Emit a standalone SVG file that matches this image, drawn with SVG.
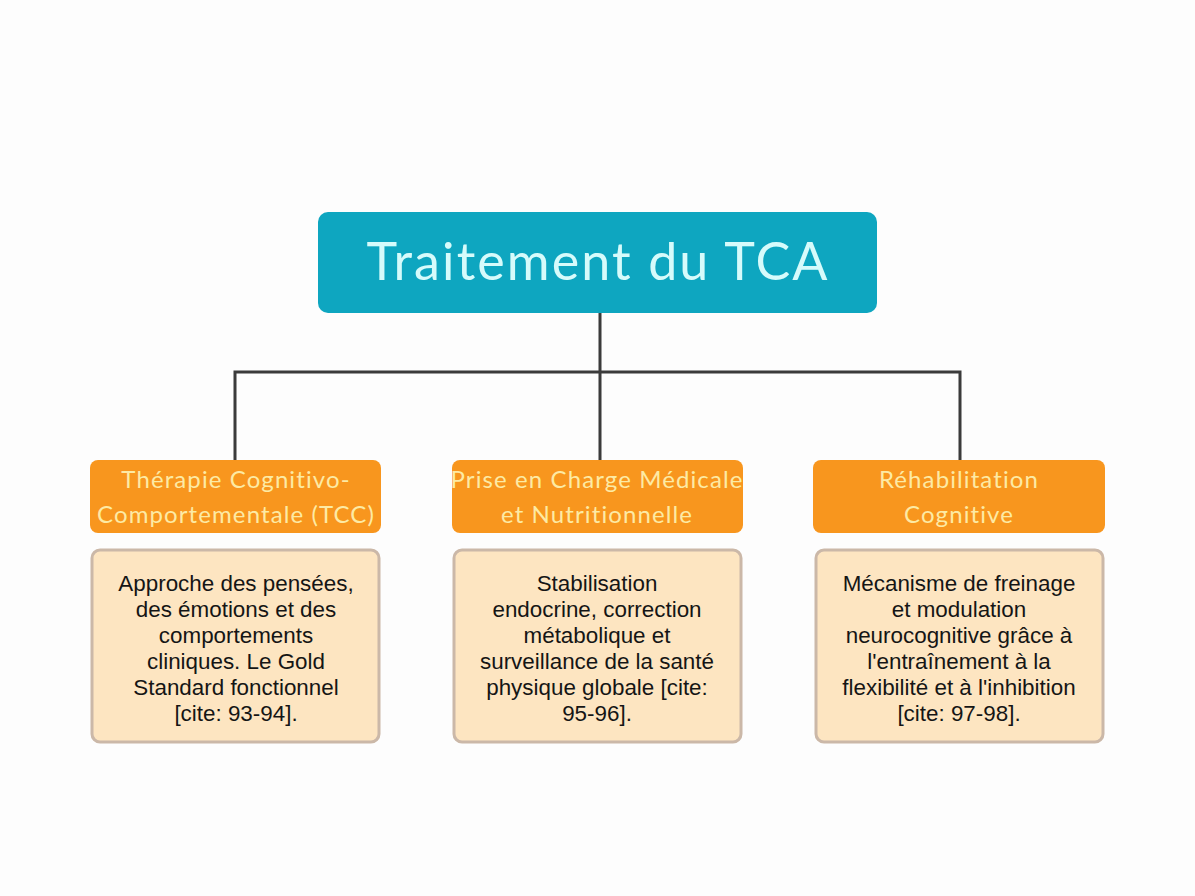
<svg xmlns="http://www.w3.org/2000/svg" width="1195" height="896" viewBox="0 0 1195 896">
<style>
.title{font-family:Lato,"Open Sans",sans-serif;font-weight:400;font-size:52px;fill:#d6fbfb;text-anchor:middle;letter-spacing:2.1px}
.cat{fill:#f8961e}
.cattext{font-family:Lato,"Open Sans",sans-serif;font-size:24px;fill:#fdeaa4;text-anchor:middle;letter-spacing:1.1px}
.desc{fill:#fde5c1;stroke:#cbb8a8;stroke-width:3}
.desctext{font-family:"Liberation Sans",Arial,sans-serif;font-size:22.4px;fill:#151515;text-anchor:middle}
.conn{stroke:#3b3b3b;stroke-width:3;fill:none}
</style>
<rect width="1195" height="896" fill="#fdfdfd"/>
<g id="connectors">
<path class="conn" d="M600 313 V372 M235 372 H960 M235 370.5 V460 M600 372 V460 M960 370.5 V460"/>
</g>
<g id="root">
<rect x="318" y="212" width="559" height="101" rx="10" fill="#0ea6c0"/>
<text class="title" x="598" y="280">Traitement du TCA</text>
</g>
<g id="tcc">
<rect class="cat" x="90" y="460" width="291" height="73" rx="8"/>
<text class="cattext"><tspan x="236" y="488">Thérapie Cognitivo-</tspan><tspan x="236" y="523">Comportementale (TCC)</tspan></text>
</g>
<g id="medical">
<rect class="cat" x="452" y="460" width="291" height="73" rx="8"/>
<text class="cattext"><tspan x="597" y="488">Prise en Charge Médicale</tspan><tspan x="597" y="523">et Nutritionnelle</tspan></text>
</g>
<g id="rehab">
<rect class="cat" x="813" y="460" width="292" height="73" rx="8"/>
<text class="cattext"><tspan x="959" y="488">Réhabilitation</tspan><tspan x="959" y="523">Cognitive</tspan></text>
</g>
<g id="tcc-desc">
<rect class="desc" x="92" y="550" width="287" height="192" rx="8"/>
<text class="desctext"><tspan x="236" y="591">Approche des pensées,</tspan><tspan x="236" y="617">des émotions et des</tspan><tspan x="236" y="643">comportements</tspan><tspan x="236" y="669">cliniques. Le Gold</tspan><tspan x="236" y="695">Standard fonctionnel</tspan><tspan x="236" y="721">[cite: 93-94].</tspan></text>
</g>
<g id="medical-desc">
<rect class="desc" x="454" y="550" width="287" height="192" rx="8"/>
<text class="desctext"><tspan x="597" y="591">Stabilisation</tspan><tspan x="597" y="617">endocrine, correction</tspan><tspan x="597" y="643">métabolique et</tspan><tspan x="597" y="669">surveillance de la santé</tspan><tspan x="597" y="695">physique globale [cite:</tspan><tspan x="597" y="721">95-96].</tspan></text>
</g>
<g id="rehab-desc">
<rect class="desc" x="816" y="550" width="287" height="192" rx="8"/>
<text class="desctext"><tspan x="959" y="591">Mécanisme de freinage</tspan><tspan x="959" y="617">et modulation</tspan><tspan x="959" y="643">neurocognitive grâce à</tspan><tspan x="959" y="669">l'entraînement à la</tspan><tspan x="959" y="695">flexibilité et à l'inhibition</tspan><tspan x="959" y="721">[cite: 97-98].</tspan></text>
</g>
</svg>
